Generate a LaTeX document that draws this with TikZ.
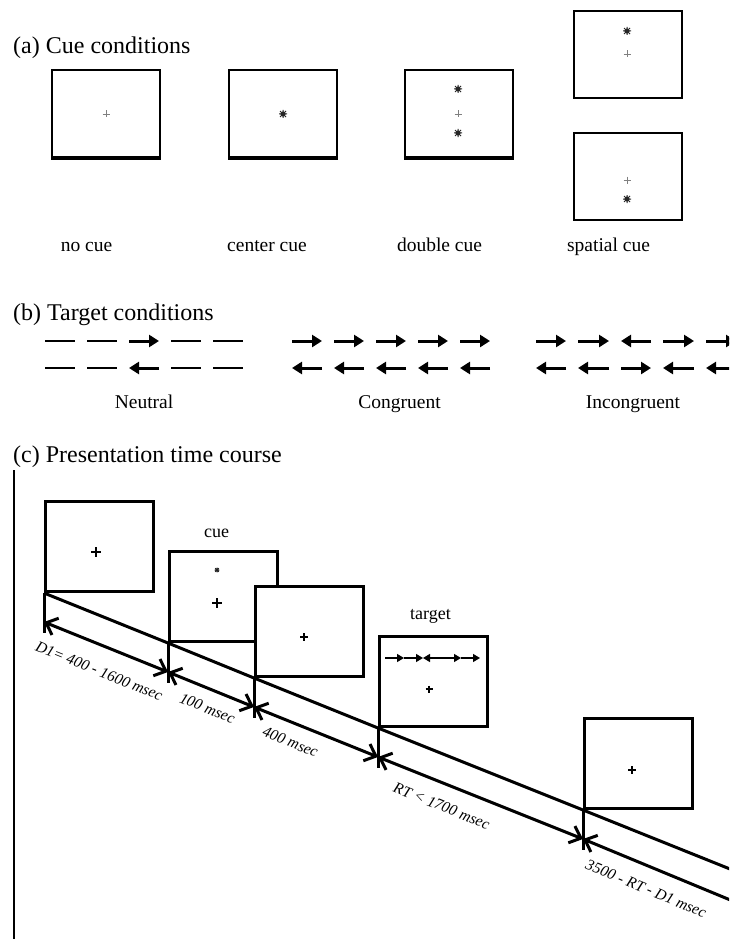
\documentclass[tikz,border=0pt]{standalone}
\usepackage{fontspec}
\setmainfont{Liberation Serif}
\usepackage{tikz}
\usetikzlibrary{positioning,arrows.meta}

\tikzset{
  scr/.style={draw, line width=1.8pt, minimum width=108pt, minimum height=87pt, inner sep=0pt, anchor=north west},
  tbox/.style={draw, line width=3pt, fill=white, minimum width=108pt, minimum height=90pt, inner sep=0pt, anchor=south west},
  head/.style={anchor=base west, inner sep=0pt, font=\fontsize{24}{28}\selectfont},
  lbl/.style={anchor=base, inner sep=0pt, font=\fontsize{19.5}{22}\selectfont},
  ilbl/.style={sloped, below=#1, inner sep=1pt, font=\fontsize{15.5}{18}\selectfont\itshape},
  ilbl/.default=10pt,
  flk/.style={line width=3pt, -{Triangle[length=10pt,width=12pt]}},
  flkdash/.style={line width=1.8pt},
  tflk/.style={line width=1.2pt, -{Triangle[length=7pt,width=8pt]}},
  span/.style={line width=3pt, {Straight Barb[length=10pt,width=18pt]}-{Straight Barb[length=10pt,width=18pt]}},
  spanend/.style={line width=3pt, {Straight Barb[length=10pt,width=18pt]}-},
  tick/.style={line width=3pt},
  fixc/.pic={\draw[line width=.8pt, gray] (-3.5,0) -- (3.5,0) (0,-3.5) -- (0,3.5);},
  cuestar/.pic={\fill[gray!30!black] (0,0) circle (2.6);
    \draw[line width=1pt, gray!30!black] (-4,0) -- (4,0) (0,-4) -- (0,4) (-3,-3) -- (3,3) (-3,3) -- (3,-3);},
  bigplus/.pic={\draw[line width=1.5pt] (-5,0) -- (5,0) (0,-5) -- (0,5);},
}

\begin{document}
\begin{tikzpicture}[x=1pt, y=-1pt]
\clip (0,0) rectangle (729,939);
\fill[white] (0,0) rectangle (729,939);

% (a) cue conditions
\node[head] (ha) at (13,53.5) {(a) Cue conditions};
\node[scr] (nocue) at (51,69) {};
\node[scr] (center) at (228,69) {};
\node[scr] (double) at (404,69) {};
\node[scr] (spatup) at (573,10) {};
\node[scr] (spatdn) at (573,132) {};
\foreach \b in {nocue,center,double}
  \draw[line width=3.5pt] (\b.south west) -- (\b.south east);

\pic at (106,114) {fixc};
\pic at (283,114) {cuestar};
\pic at (458,89) {cuestar};
\pic at (458,114) {fixc};
\pic at (458,133) {cuestar};
\pic at (627,31) {cuestar};
\pic at (627,54) {fixc};
\pic at (627,180) {fixc};
\pic at (627,199) {cuestar};

\node[lbl] (lnocue) at (86.5,251.5) {no cue};
\node[lbl] (lcenter) at (267,251.5) {center cue};
\node[lbl] (ldouble) at (439.5,251.5) {double cue};
\node[lbl] (lspatial) at (608.5,251.5) {spatial cue};

% (b) target conditions
\node[head] (hb) at (13,320.5) {(b) Target conditions};
\foreach \a/\b in {45/75,87/117,171/201,213/243} {
  \draw[flkdash] (\a,341) -- (\b,341);
  \draw[flkdash] (\a,368) -- (\b,368);
}
\draw[flk] (129,341) -- (159,341);
\draw[flk] (159,368) -- (129,368);
\foreach \a/\b in {292/322,334/364,376/406,418/448,460/490} {
  \draw[flk] (\a,341) -- (\b,341);
  \draw[flk] (\b,368) -- (\a,368);
}
\foreach \a/\b in {536/566,578/609,651/621,663/694,706/736}
  \draw[flk] (\a,341) -- (\b,341);
\foreach \a/\b in {566/536,609/578,621/651,694/663,736/706}
  \draw[flk] (\a,368) -- (\b,368);

\node[lbl] (lneutral) at (144,408) {Neutral};
\node[lbl] (lcongr) at (399.5,408) {Congruent};
\node[lbl] (lincongr) at (633,408) {Incongruent};

% (c) time course
\node[head] (hc) at (13,462) {(c) Presentation time course};
\draw[line width=2.5pt] (14,470) -- (14,939);

\node[tbox] (fix) at (44,593) {};
\node[tbox] (cue) at (168,643) {};
\node[tbox] (isi) at (254,678) {};
\node[tbox] (tgt) at (378,728) {};
\node[tbox] (blank) at (583,810) {};

\node[lbl, font=\fontsize{18}{20}\selectfont] (lcue) at (216.5,537) {cue};
\node[lbl, font=\fontsize{18}{20}\selectfont] (ltarget) at (430.5,619) {target};

\pic at (96,552) {bigplus};
\pic[scale=.6] at (217,570) {cuestar};
\pic at (217,603) {bigplus};
\pic[scale=.8] at (304,637) {bigplus};
\pic[scale=.7] at (429,689) {bigplus};
\pic[scale=.8] at (632,770) {bigplus};
\foreach \a/\b in {385/404,404/423,442/423,442/461,461/480}
  \draw[tflk] (\a,658) -- (\b,658);

\coordinate (ue) at (740,873);
\coordinate (le) at (740,904);
\draw[tick] (fix.south west) -- (cue.south west) -- (isi.south west) -- (tgt.south west) -- (blank.south west) -- (ue);
\foreach \b in {fix,cue,isi,tgt,blank} {
  \draw[tick] (\b.south west) -- ++(0,40);
  \path (\b.south west) ++(0,29) coordinate (\b-t);
}
\draw[span] (fix-t) -- node[ilbl=17pt, pos=.52] {D1= 400 - 1600 msec} (cue-t);
\draw[span] (cue-t) -- node[ilbl=11pt, pos=.54] {100 msec} (isi-t);
\draw[span] (isi-t) -- node[ilbl=11pt, pos=.35] {400 msec} (tgt-t);
\draw[span] (tgt-t) -- node[ilbl=14pt, pos=.35] {RT < 1700 msec} (blank-t);
\draw[spanend] (blank-t) -- node[ilbl=14pt, pos=.455] {3500 - RT - D1 msec} (le);
\end{tikzpicture}
\end{document}
